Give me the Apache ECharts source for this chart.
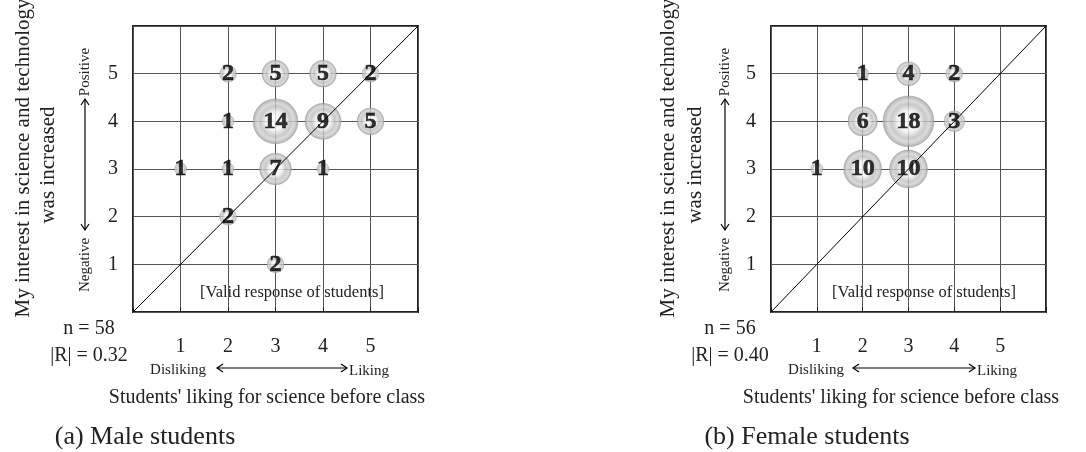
<!DOCTYPE html>
<html>
<head>
<meta charset="utf-8">
<script src="https://cdn.jsdelivr.net/npm/echarts@6/dist/echarts.min.js"></script>
<style>
  html, body { margin: 0; padding: 0; background: #fff; }
  #chart { width: 1086px; height: 452px; }
</style>
</head>
<body>
<div id="chart"></div>
<script>
// [liking before class, interest increased, number of students]
var maleData = [
  [2, 5, 2], [3, 5, 5], [4, 5, 5], [5, 5, 2],
  [2, 4, 1], [3, 4, 14], [4, 4, 9], [5, 4, 5],
  [1, 3, 1], [2, 3, 1], [3, 3, 7], [4, 3, 1],
  [2, 2, 2],
  [3, 1, 2]
];
var femaleData = [
  [2, 5, 1], [3, 5, 4], [4, 5, 2],
  [2, 4, 6], [3, 4, 18], [4, 4, 3],
  [1, 3, 1], [2, 3, 10], [3, 3, 10]
];
var diag = [[0, 0], [6, 6]];
var panels = ['(a) Male students', '(b) Female students'];
var stats = [['n = 58', '|R| = 0.32'], ['n = 56', '|R| = 0.40']];

var serif = '"Liberation Serif", "Times New Roman", serif';
var chart = echarts.init(document.getElementById('chart'));

var ball = {
  type: 'radial', x: 0.5, y: 0.5, r: 0.5,
  colorStops: [
    { offset: 0, color: '#ffffff' },
    { offset: 0.4, color: '#f2f2f2' },
    { offset: 0.66, color: '#bcbcbc' },
    { offset: 0.8, color: '#d2d2d2' },
    { offset: 0.92, color: '#b4b4b4' },
    { offset: 1, color: '#939393' }
  ]
};

function xAx(idx) {
  return {
    gridIndex: idx, type: 'value', min: 0, max: 6, interval: 1,
    axisLine: { show: false },
    axisTick: { show: true, inside: true, length: 5, lineStyle: { color: '#222', width: 1 } },
    axisLabel: {
      margin: 25, color: '#222', fontFamily: serif, fontSize: 20,
      formatter: function (v) { return v >= 1 && v <= 5 ? v : ''; }
    },
    splitLine: { show: true, lineStyle: { color: '#555', width: 1 } }
  };
}
function yAx(idx) {
  return {
    gridIndex: idx, type: 'value', min: 0, max: 6, interval: 1,
    axisLine: { show: false },
    axisTick: { show: false },
    axisLabel: {
      margin: 15, color: '#222', fontFamily: serif, fontSize: 20,
      formatter: function (v) { return v >= 1 && v <= 5 ? v : ''; }
    },
    splitLine: { show: true, lineStyle: { color: '#555', width: 1 } }
  };
}
function bubbles(idx, data) {
  return {
    type: 'scatter', xAxisIndex: idx, yAxisIndex: idx, data: data, z: 2,
    symbolSize: function (d) { return 12 * Math.sqrt(d[2]); },
    itemStyle: { color: ball, borderColor: '#999', borderWidth: 0.5 },
    label: {
      show: true, position: 'inside', color: '#000', fontFamily: serif,
      fontWeight: 'bold', fontSize: 24, textBorderColor: '#000', textBorderWidth: 0.6,
      formatter: function (p) { return p.value[2]; }
    }
  };
}
function diagLine(idx) {
  return {
    type: 'line', xAxisIndex: idx, yAxisIndex: idx, data: diag, z: 5,
    symbol: 'none', silent: true,
    lineStyle: { color: '#000', width: 1 }
  };
}

function txt(x, y, s, size, opt) {
  var o = {
    type: 'text', x: x, y: y,
    style: {
      text: s, fill: '#222', font: size + 'px ' + serif,
      textAlign: 'center', textVerticalAlign: 'middle'
    }
  };
  if (opt && opt.rot) o.rotation = Math.PI / 2;
  if (opt && opt.align) o.style.textAlign = opt.align;
  return o;
}
function hArrow(x1, x2, y) {
  return [
    { type: 'line', shape: { x1: x1, y1: y, x2: x2, y2: y }, style: { stroke: '#000', lineWidth: 1.2 } },
    { type: 'polyline', shape: { points: [[x2 - 6, y - 4], [x2, y], [x2 - 6, y + 4]] }, style: { stroke: '#000', lineWidth: 1.2, fill: null } },
    { type: 'polyline', shape: { points: [[x1 + 6, y - 4], [x1, y], [x1 + 6, y + 4]] }, style: { stroke: '#000', lineWidth: 1.2, fill: null } }
  ];
}
function vArrow(x, y1, y2) {
  return [
    { type: 'line', shape: { x1: x, y1: y1, x2: x, y2: y2 }, style: { stroke: '#000', lineWidth: 1.2 } },
    { type: 'polyline', shape: { points: [[x - 4, y1 + 6], [x, y1], [x + 4, y1 + 6]] }, style: { stroke: '#000', lineWidth: 1.2, fill: null } },
    { type: 'polyline', shape: { points: [[x - 4, y2 - 6], [x, y2], [x + 4, y2 - 6]] }, style: { stroke: '#000', lineWidth: 1.2, fill: null } }
  ];
}

// per-panel decoration positions
var deco = [
  { t1: 23, t2: 48, arr: 85, stat: 89, dis: 178, a1: 217, a2: 347, lik: 349, xt: 267, cap: 145, valid: 292 },
  { t1: 668, t2: 695, arr: 725, stat: 730, dis: 816, a1: 853, a2: 975, lik: 977, xt: 901, cap: 807, valid: 924 }
];
var graphics = [];
deco.forEach(function (d, i) {
  graphics.push(txt(d.t1, 158, 'My interest in science and technology', 21, { rot: true }));
  graphics.push(txt(d.t2, 165, 'was increased', 21, { rot: true }));
  graphics.push(txt(d.arr, 72, 'Positive', 15, { rot: true }));
  graphics.push(txt(d.arr, 265, 'Negative', 15, { rot: true }));
  graphics = graphics.concat(vArrow(d.arr, 99, 230));
  graphics.push(txt(d.stat, 329, stats[i][0], 20));
  graphics.push(txt(d.stat, 356, stats[i][1], 20));
  graphics.push(txt(d.dis, 370, 'Disliking', 15));
  graphics = graphics.concat(hArrow(d.a1, d.a2, 368));
  graphics.push(txt(d.lik, 371, 'Liking', 15, { align: 'left' }));
  graphics.push(txt(d.xt, 398, "Students' liking for science before class", 20));
  graphics.push(txt(d.cap, 437, panels[i], 26));
  graphics.push(txt(d.valid, 293, '[Valid response of students]', 16.5));
});

chart.setOption({
  animation: false,
  backgroundColor: '#fff',
  grid: [
    { left: 133, top: 26, width: 285, height: 286, show: true, borderColor: '#222', borderWidth: 2, backgroundColor: 'transparent' },
    { left: 771, top: 26, width: 275, height: 286, show: true, borderColor: '#222', borderWidth: 2, backgroundColor: 'transparent' }
  ],
  xAxis: [xAx(0), xAx(1)],
  yAxis: [yAx(0), yAx(1)],
  series: [bubbles(0, maleData), diagLine(0), bubbles(1, femaleData), diagLine(1)],
  graphic: graphics
});
</script>
</body>
</html>
